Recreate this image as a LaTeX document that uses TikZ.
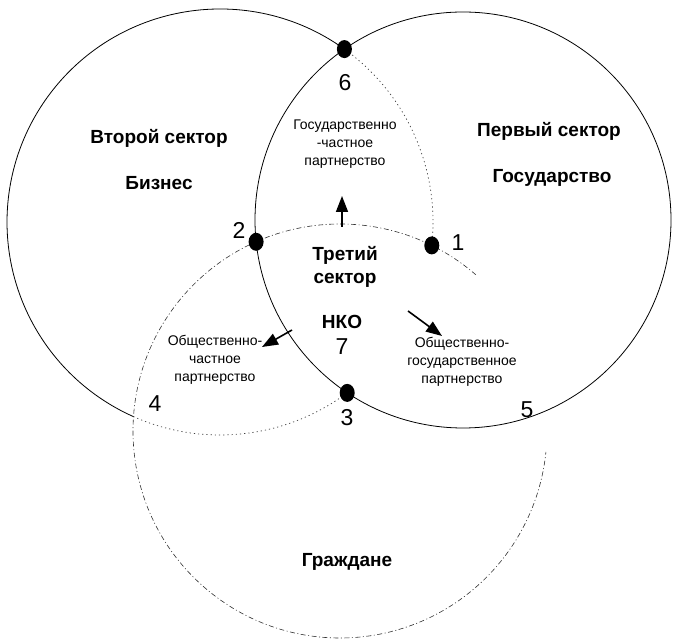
\documentclass[tikz,border=0pt]{standalone}
\usepackage{fontspec}
\setmainfont{Liberation Sans}
\usetikzlibrary{shapes.geometric,arrows.meta}
\begin{document}
\begin{tikzpicture}[x=1pt,y=1pt,
  circ/.style={line width=0.8pt, black},
  dotarc/.style={line width=0.7pt, black!75, dash pattern=on 1.2pt off 3pt},
  dasharc/.style={line width=0.6pt, black!80, dash pattern=on 5pt off 2.5pt on 1pt off 2.5pt},
  pt/.style={ellipse, fill=black, draw=none, inner sep=0pt, minimum width=15pt, minimum height=18pt},
  big/.style={font=\fontsize{19}{23}\selectfont\bfseries},
  small/.style={font=\fontsize{14}{18}\selectfont, align=center},
  num/.style={font=\fontsize{23}{25}\selectfont},
  arr/.style={line width=1.6pt, -{Triangle[length=16pt,width=12pt]}}
]
\useasboundingbox (0,0) rectangle (676,639);
% circle centres
\coordinate (cL) at (220,417);
\coordinate (cR) at (463,419);
\coordinate (cB) at (340,208);
% right circle (Государство)
\draw[circ] (cR) circle[radius=208];
% left circle (Бизнес)
\draw[circ] (cL) ++(54.26:213) arc[start angle=54.26, end angle=246.0, radius=213];
\draw[dotarc] (cL) ++(246.0:213) arc[start angle=246.0, end angle=306.66, radius=213];
\draw[dotarc] (cL) ++(-6.3:213) arc[start angle=-6.3, end angle=54.26, radius=213];
% bottom circle (Граждане)
\draw[dasharc] (cB) ++(49:207) arc[start angle=49, end angle=354.2, radius=207];
% intersection points
\node[pt] (p6) at (344.4,589.9) {};
\node[pt] (p2) at (256.1,397.2) {};
\node[pt] (p1) at (431.8,393.6) {};
\node[pt] (p3) at (347.2,246.1) {};
% numbers
\node[num] (n6) at (345,556) {6};
\node[num] (n2) at (239,409) {2};
\node[num] (n1) at (458,396) {1};
\node[num] (n3) at (347,221) {3};
\node[num] (n4) at (155,235) {4};
\node[num] (n5) at (527,229) {5};
\node[num] (n7) at (342,292) {7};
% sector labels
\node[big] (t2a) at (159,501) {Второй сектор};
\node[big] (t2b) at (159,456) {Бизнес};
\node[big] (t1a) at (549,508) {Первый сектор};
\node[big] (t1b) at (552,461) {Государство};
\node[big] (t3a) at (345,384) {Третий};
\node[big] (t3b) at (345,359) {сектор};
\node[big] (t3c) at (342,317) {НКО};
\node[big] (tc) at (347,77) {Граждане};
% partnership texts
\node[small] (gcp) at (345,495) {Государственно\\-частное\\партнерство};
\node[small] (ocp) at (215,279) {Общественно-\\частное\\партнерство};
\node[small] (ogp) at (462,277) {Общественно-\\государственное\\партнерство};
% arrows
\coordinate (aus) at (342,412);
\coordinate (aue) at (342,443);
\coordinate (ars) at (408,328);
\coordinate (are) at (442,303);
\coordinate (als) at (292,309);
\coordinate (ale) at (262,292);
\draw[arr] (aus) -- (aue);
\draw[arr] (ars) -- (are);
\draw[arr] (als) -- (ale);
\end{tikzpicture}
\end{document}
